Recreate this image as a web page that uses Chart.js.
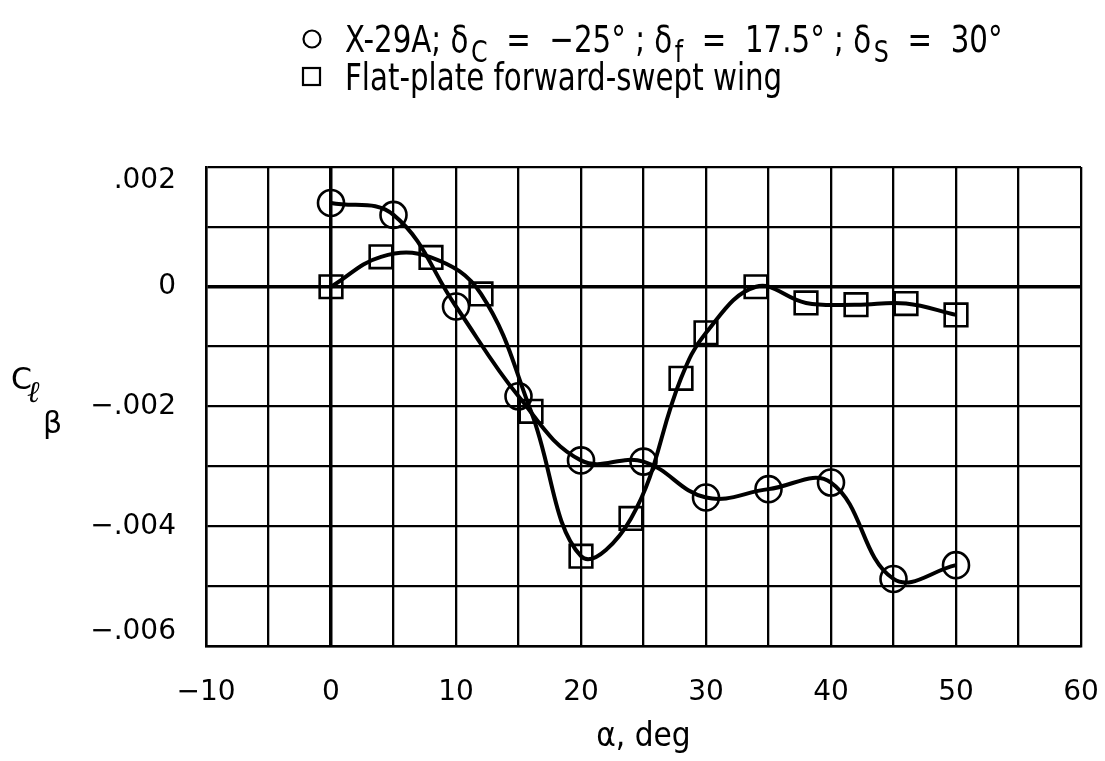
<!DOCTYPE html>
<html><head><meta charset="utf-8">
<script src="https://cdn.jsdelivr.net/npm/chart.js@4.4.1/dist/chart.umd.min.js"></script>
<style>html,body{margin:0;padding:0;background:#fff}</style>
</head><body>
<canvas id="c" width="1105" height="761"></canvas>
<script>
// ---- data ----
const x29Alpha = [0, 5, 10, 15, 20, 25, 30, 35, 40, 45, 50];
const x29Clb = [0.0014, 0.0012, -0.00033, -0.00183, -0.0029, -0.00292, -0.00352, -0.00338, -0.00327, -0.00488, -0.00465];
const plateAlpha = [0, 4, 8, 12, 16, 20, 24, 28, 30, 34, 38, 42, 46, 50];
const plateClb = [0, 0.0005, 0.00049, -0.00012, -0.00208, -0.0045, -0.00387, -0.00153, -0.00077, 0, -0.00027, -0.0003, -0.00028, -0.00047];
const xTickValues = [-10, -5, 0, 5, 10, 15, 20, 25, 30, 35, 40, 45, 50, 55, 60];
const xTickLabels = ['\u221210', '', '0', '', '10', '', '20', '', '30', '', '40', '', '50', '', '60'];
const yTickValues = [0.002, 0.001, 0, -0.001, -0.002, -0.003, -0.004, -0.005, -0.006];
const yTickLabels = ['.002', '', '0', '', '\u2212.002', '', '\u2212.004', '', '\u2212.006'];
const legendLine1 = [
  {t: 'X-29A; \u03b4'}, {t: 'C', sub: true}, {t: ' = \u221225\u00b0 ; \u03b4'}, {t: 'f', sub: true},
  {t: ' = 17.5\u00b0 ; \u03b4'}, {t: 'S', sub: true}, {t: ' = 30\u00b0'}
];
const legendLine2 = 'Flat-plate forward-swept wing';
const xTitle = '\u03b1, deg';

const toPts = (xs, ys) => xs.map((x, i) => ({x: x, y: ys[i]}));

const decor = {
  id: 'decor',
  afterDraw(chart) {
    const ctx = chart.ctx;
    ctx.save();
    ctx.fillStyle = '#000';
    ctx.strokeStyle = '#000';
    ctx.textBaseline = 'alphabetic';
    const sx = 0.88;
    const mainFont = '37px "Liberation Sans Narrow", "DejaVu Sans Condensed", sans-serif';
    const subFont = '30px "Liberation Sans Narrow", "DejaVu Sans Condensed", sans-serif';
    const base1 = 52, base2 = 90;
    // legend markers
    ctx.lineWidth = 2.2;
    ctx.beginPath(); ctx.arc(312, base1 - 13, 8.5, 0, Math.PI * 2); ctx.stroke();
    ctx.strokeRect(303, base2 - 22, 17, 17);
    // legend text (horizontally condensed)
    ctx.save();
    ctx.scale(sx, 1);
    let x = 345 / sx;
    legendLine1.forEach(s => {
      ctx.font = s.sub ? subFont : mainFont;
      const txt = s.sub ? s.t : s.t.replace(/ = /g, '  =  ').replace(/ ; /g, ' ; ');
      ctx.fillText(txt, x + (s.sub ? 3 : 0), s.sub ? base1 + 10 : base1);
      x += ctx.measureText(txt).width + (s.sub ? 3 : 0);
    });
    ctx.font = mainFont;
    ctx.fillText(legendLine2, 345 / sx, base2);
    ctx.restore();
    // y-axis title C_l_beta
    ctx.font = '30px "DejaVu Sans", sans-serif';
    ctx.fillText('C', 11, 389);
    ctx.font = 'italic 30px "DejaVu Serif", serif';
    ctx.fillText('\u2113', 27, 402);
    ctx.font = '30px "DejaVu Sans", sans-serif';
    ctx.fillText('\u03b2', 43, 433);
    ctx.restore();
  }
};

const gridW = (ctx) => (ctx.tick && ctx.tick.value === 0 ? 3.5 : 2.3);

new Chart(document.getElementById('c'), {
  type: 'scatter',
  data: {
    datasets: [
      {
        label: 'X-29A',
        data: toPts(x29Alpha, x29Clb),
        showLine: true, tension: 0.4,
        borderColor: '#000', borderWidth: 4,
        pointStyle: 'circle', pointRadius: 13, pointBorderWidth: 2.6,
        pointBorderColor: '#000', pointBackgroundColor: 'rgba(0,0,0,0)'
      },
      {
        label: 'Flat-plate forward-swept wing',
        data: toPts(plateAlpha, plateClb),
        showLine: true, tension: 0.4,
        borderColor: '#000', borderWidth: 4,
        pointStyle: 'rect', pointRadius: 16, pointBorderWidth: 2.6,
        pointBorderColor: '#000', pointBackgroundColor: 'rgba(0,0,0,0)'
      }
    ]
  },
  options: {
    responsive: false, animation: false, devicePixelRatio: 1,
    layout: {padding: {top: 167, right: 24, left: 0, bottom: 0}},
    plugins: {legend: {display: false}, tooltip: {enabled: false}},
    scales: {
      x: {
        type: 'linear', min: -10, max: 60,
        afterFit: (s) => { s.height = 115; s.paddingRight = 0; s.paddingLeft = 0; },
        afterBuildTicks: (s) => { s.ticks = xTickValues.map(v => ({value: v})); },
        ticks: {
          padding: 30, color: '#000', maxRotation: 0, autoSkip: false,
          font: {family: '"DejaVu Sans", sans-serif', size: 28},
          callback: (v, i) => xTickLabels[i]
        },
        grid: {color: '#000', lineWidth: gridW, drawTicks: false},
        border: {color: '#000', width: 2.5},
        title: {
          display: true, text: xTitle, color: '#000',
          font: {family: '"DejaVu Sans Condensed", sans-serif', size: 33},
          padding: {top: 0, bottom: 4}
        }
      },
      y: {
        type: 'linear', min: -0.006, max: 0.002,
        afterFit: (s) => { s.width = 206; },
        afterBuildTicks: (s) => { s.ticks = yTickValues.map(v => ({value: v})); },
        ticks: {
          padding: 30, color: '#000', autoSkip: false,
          font: {family: '"DejaVu Sans", sans-serif', size: 28, lineHeight: 1},
          callback: (v, i) => {
            const t = yTickLabels[i];
            // end labels sit just inside the frame, as in the reference
            if (i === 0) return ['', t];
            if (i === yTickLabels.length - 1) return [t, ''];
            return t;
          }
        },
        grid: {color: '#000', lineWidth: gridW, drawTicks: false},
        border: {color: '#000', width: 2.5}
      }
    }
  },
  plugins: [decor]
});
</script>
</body></html>
